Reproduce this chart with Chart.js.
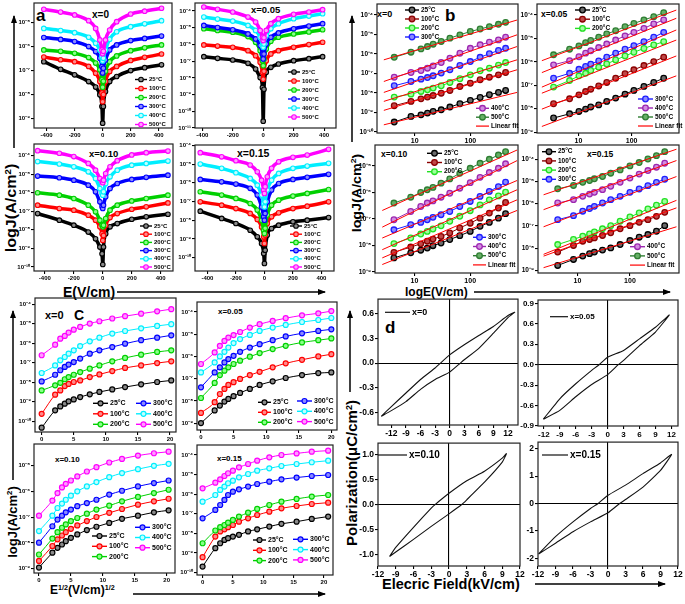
<!DOCTYPE html>
<html>
<head>
<meta charset="UTF-8">
<title>J-E and P-E curves</title>
<script src="https://cdn.jsdelivr.net/npm/chart.js"></script>
<style>
  body { margin: 0; background: #fff; font-family: "Liberation Sans", Arial, sans-serif; }
  #wrap { position: relative; width: 685px; height: 604px; overflow: hidden; background: #fff; }
  canvas { position: absolute; }
  .t { position: absolute; font-weight: bold; white-space: nowrap; line-height: 1; color: #000; }
  .r { transform-origin: center center; }
  sup { font-size: 0.6em; vertical-align: 0.55em; line-height: 0; }
  svg { position: absolute; left: 0; top: 0; }
</style>
</head>
<body>
<div id="wrap">
  <!-- panel letters and sub titles -->
  <div class="t" style="left:36px;top:7px;font-size:17px">a</div>
  <div class="t" style="left:92px;top:10px;font-size:10px">x=0</div>
  <div class="t" style="left:251px;top:5px;font-size:9.5px">x=0.05</div>
  <div class="t" style="left:89px;top:149px;font-size:9.5px">x=0.10</div>
  <div class="t" style="left:237px;top:148px;font-size:10.5px">x=0.15</div>

  <div class="t" style="left:445px;top:7px;font-size:17px">b</div>
  <div class="t" style="left:377px;top:10px;font-size:9px">x=0</div>
  <div class="t" style="left:541px;top:10px;font-size:8.5px">x=0.05</div>
  <div class="t" style="left:381px;top:150px;font-size:8.5px">x=0.10</div>
  <div class="t" style="left:587px;top:150px;font-size:8.5px">x=0.15</div>

  <div class="t" style="left:45px;top:310px;font-size:11px">x=0</div>
  <div class="t" style="left:74px;top:308px;font-size:14px">C</div>
  <div class="t" style="left:218px;top:308px;font-size:8px">x=0.05</div>
  <div class="t" style="left:55px;top:456px;font-size:8px">x=0.10</div>
  <div class="t" style="left:217px;top:455px;font-size:8px">x=0.15</div>

  <div class="t" style="left:385px;top:319px;font-size:17px">d</div>

  <!-- axis titles -->
  <div class="t r" style="left:11px;top:208px;font-size:14px;transform:translate(-50%,-50%) rotate(-90deg) scaleX(1.15)">logJ(A/cm<sup>2</sup>)</div>
  <div class="t" style="left:63px;top:285px;font-size:14px">E(V/cm)</div>
  <div class="t r" style="left:356px;top:193px;font-size:13px;transform:translate(-50%,-50%) rotate(-90deg) scaleX(1.1)">logJ(A/cm<sup>2</sup>)</div>
  <div class="t" style="left:405px;top:286px;font-size:12px">logE(V/cm)</div>
  <div class="t r" style="left:12px;top:522px;font-size:13px;transform:translate(-50%,-50%) rotate(-90deg)">logJ(A/cm<sup>2</sup>)</div>
  <div class="t" style="left:50px;top:584px;font-size:12px">E<sup>1/2</sup>(V/cm)<sup>1/2</sup></div>
  <div class="t r" style="left:351px;top:473px;font-size:15px;transform:translate(-50%,-50%) rotate(-90deg)">Polarization(&mu;C/cm<sup>2</sup>)</div>
  <div class="t" style="left:382px;top:577px;font-size:14.5px">Elecric Field(kV/cm)</div>

  <svg width="685" height="604">
    <defs>
      <marker id="ah" markerWidth="8" markerHeight="6" refX="7" refY="3" orient="auto" markerUnits="userSpaceOnUse">
        <path d="M0,0 L8,3 L0,6 z" fill="#000"/>
      </marker>
    </defs>
    <g stroke="#000" stroke-width="1.5" marker-end="url(#ah)">
      <line x1="14" y1="148" x2="14" y2="16"/>
      <line x1="117" y1="292" x2="325" y2="292"/>
      <line x1="352" y1="142" x2="352" y2="16"/>
      <line x1="474" y1="292" x2="670" y2="292"/>
      <line x1="13" y1="480" x2="13" y2="311"/>
      <line x1="133" y1="594" x2="325" y2="594"/>
      <line x1="350" y1="392" x2="350" y2="311"/>
      <line x1="535" y1="584" x2="665" y2="584"/>
    </g>
  </svg>
</div>

<script>
  // ---------- labels and ticks ----------
  const TEMPS = ['25°C', '100°C', '200°C', '300°C', '400°C', '500°C'];
  const TICK_E = [-400, -200, 0, 200, 400];
  const TICK_LOGE = [10, 100];
  const TICK_SQRT = [0, 5, 10, 15, 20];
  const TICK_D_X = [-12, -9, -6, -3, 0, 3, 6, 9, 12];
  const TICK_D1_Y = [-0.6, -0.3, 0, 0.3, 0.6];
  const TICK_D2_Y = [-0.9, -0.6, -0.3, 0, 0.3, 0.6, 0.9];
  const TICK_D3_Y = [-1, -0.5, 0, 0.5, 1];
  const TICK_D4_Y = [-2, -1, 0, 1, 2];

  // ---------- (a) log10 J vs E, rows = 25..500 C ----------
  const aE_x0  = [-420, -300, -200, -100, -50, -20, -5, 0, 5, 20, 50, 100, 200, 300, 420];
  const aE_x05 = [-390, -300, -200, -100, -50, -20, -5, 0, 5, 20, 50, 100, 200, 300, 390];
  const aE_x10 = [-450, -300, -200, -100, -50, -20, -5, 0, 5, 20, 50, 100, 200, 300, 450];
  const aE_x15 = [-450, -300, -200, -100, -50, -20, -5, 0, 5, 20, 50, 100, 200, 300, 450];
  const aJ_x0 = [
    [-6.63, -6.95, -7.18, -7.46, -7.69, -8.01, -8.5, -9.2, -8.5, -7.88, -7.46, -7.25, -7.0, -6.88, -6.76],
    [-6.44, -6.55, -6.63, -6.83, -7.11, -7.46, -7.94, -8.3, -8.0, -7.46, -7.04, -6.83, -6.58, -6.45, -6.31],
    [-6.14, -6.2, -6.28, -6.46, -6.69, -6.97, -7.39, -7.7, -7.45, -7.03, -6.63, -6.39, -6.17, -6.05, -5.93],
    [-5.62, -5.7, -5.79, -6.0, -6.21, -6.49, -6.83, -7.1, -6.9, -6.56, -6.14, -5.93, -5.75, -5.66, -5.56],
    [-5.24, -5.33, -5.42, -5.61, -5.86, -6.14, -6.42, -6.6, -6.49, -6.14, -5.69, -5.38, -5.17, -5.05, -4.92],
    [-4.44, -4.56, -4.68, -4.92, -5.24, -5.72, -6.14, -6.3, -6.2, -5.72, -5.31, -4.96, -4.64, -4.52, -4.40]
  ];
  const aJ_x05 = [
    [-6.73, -6.83, -6.93, -7.13, -7.47, -7.98, -8.58, -10.59, -8.68, -7.67, -7.37, -7.17, -6.97, -6.85, -6.73],
    [-6.03, -6.1, -6.17, -6.37, -6.67, -7.07, -7.67, -8.08, -7.6, -6.97, -6.57, -6.37, -6.17, -6.01, -5.87],
    [-5.06, -5.16, -5.27, -5.53, -5.87, -6.37, -6.97, -7.27, -6.87, -6.27, -5.81, -5.57, -5.37, -5.25, -5.12],
    [-4.86, -4.99, -5.12, -5.37, -5.67, -6.07, -6.57, -6.87, -6.57, -5.97, -5.57, -5.31, -5.06, -4.9, -4.76],
    [-4.36, -4.48, -4.6, -4.86, -5.16, -5.57, -6.07, -6.17, -5.97, -5.47, -5.06, -4.76, -4.46, -4.3, -4.16],
    [-3.76, -3.9, -4.06, -4.36, -4.66, -5.16, -5.57, -5.77, -5.6, -5.16, -4.76, -4.46, -4.2, -4.06, -3.92]
  ];
  const aJ_x10 = [
    [-7.12, -7.48, -7.75, -8.12, -8.48, -8.93, -9.29, -9.87, -8.93, -8.21, -7.84, -7.66, -7.43, -7.3, -7.16],
    [-6.67, -6.85, -6.94, -7.21, -7.48, -7.84, -8.21, -8.57, -8.3, -7.75, -7.34, -7.12, -6.89, -6.76, -6.55],
    [-6.0, -6.13, -6.31, -6.67, -7.03, -7.48, -7.75, -7.84, -7.75, -7.39, -6.94, -6.67, -6.44, -6.31, -6.13],
    [-5.1, -5.19, -5.32, -5.59, -5.95, -6.49, -6.76, -6.85, -6.67, -6.22, -5.77, -5.5, -5.28, -5.17, -5.05],
    [-4.32, -4.45, -4.6, -4.87, -5.23, -5.77, -6.04, -6.13, -5.95, -5.5, -5.14, -4.78, -4.51, -4.42, -4.29],
    [-3.73, -3.87, -4.05, -4.42, -4.78, -5.23, -5.41, -5.46, -5.32, -4.96, -4.6, -4.27, -3.96, -3.84, -3.75]
  ];
  const aJ_x15 = [
    [-7.52, -7.91, -8.18, -8.54, -8.89, -9.25, -9.79, -10.32, -9.61, -8.8, -8.45, -8.27, -8.09, -8.0, -7.86],
    [-7.02, -7.2, -7.38, -7.64, -7.96, -8.36, -8.89, -9.25, -8.8, -8.18, -7.82, -7.61, -7.38, -7.25, -7.02],
    [-6.48, -6.66, -6.84, -7.11, -7.46, -8.0, -8.54, -8.71, -8.43, -7.73, -7.2, -6.93, -6.71, -6.57, -6.36],
    [-5.82, -5.95, -6.07, -6.3, -6.66, -7.29, -7.82, -8.0, -7.64, -7.02, -6.39, -6.04, -5.82, -5.71, -5.55],
    [-5.0, -5.23, -5.46, -5.77, -6.13, -6.66, -7.11, -7.29, -7.02, -6.39, -5.86, -5.5, -5.23, -5.11, -4.96],
    [-4.39, -4.61, -4.82, -5.05, -5.41, -5.86, -6.39, -6.57, -6.21, -5.68, -5.23, -4.88, -4.64, -4.52, -4.21]
  ];

  // ---------- (b) log J vs log E, with linear fit end points ----------
  const bE_x0  = [4.3, 8.6, 13, 17, 21.5, 30, 43, 65, 100, 150, 220, 320, 430];
  const bE_x05 = [3.4, 6.8, 10.2, 13.6, 17, 24, 34, 50, 75, 110, 170, 260, 400];
  const bE_x10 = [4.3, 8.6, 13, 17, 21.5, 30, 43, 65, 100, 150, 220, 320, 430];
  const bE_x15 = [4.2, 8.4, 12.6, 17, 21, 30, 43, 65, 100, 150, 220, 320, 460];
  const bJ_x0 = [
    [-9.49, -9.2, -9.12, -9.03, -8.94, -8.86, -8.72, -8.55, -8.38, -8.23, -8.09, -7.97, -7.87],
    [-8.65, -8.43, -8.3, -8.21, -8.13, -8.01, -7.87, -7.67, -7.5, -7.32, -7.19, -7.07, -6.95],
    [-8.21, -8.06, -7.92, -7.84, -7.75, -7.63, -7.46, -7.27, -7.07, -6.86, -6.73, -6.57, -6.44],
    [-7.63, -7.41, -7.29, -7.21, -7.12, -6.98, -6.81, -6.59, -6.39, -6.17, -5.99, -5.82, -5.71],
    [-7.19, -6.95, -6.85, -6.73, -6.61, -6.44, -6.22, -5.96, -5.71, -5.53, -5.4, -5.28, -5.14],
    [-6.17, -5.91, -5.74, -5.62, -5.5, -5.36, -5.19, -5.02, -4.85, -4.72, -4.6, -4.48, -4.38]
  ];
  const bJ_x05 = [
    [-8.4, -8.22, -8.12, -8.02, -7.93, -7.84, -7.69, -7.55, -7.38, -7.22, -7.05, -6.88, -6.7],
    [-7.79, -7.58, -7.41, -7.27, -7.17, -7.03, -6.88, -6.7, -6.51, -6.34, -6.16, -5.99, -5.8],
    [-7.08, -6.8, -6.6, -6.49, -6.37, -6.23, -6.09, -5.92, -5.75, -5.59, -5.43, -5.28, -5.14],
    [-6.7, -6.49, -6.32, -6.2, -6.1, -5.96, -5.8, -5.63, -5.46, -5.31, -5.14, -4.95, -4.74],
    [-6.13, -5.95, -5.78, -5.63, -5.53, -5.39, -5.24, -5.07, -4.89, -4.74, -4.57, -4.38, -4.21],
    [-5.7, -5.46, -5.32, -5.18, -5.09, -4.95, -4.81, -4.67, -4.5, -4.36, -4.21, -4.07, -3.9]
  ];
  const bJ_x10 = [
    [-8.47, -8.28, -8.18, -8.1, -8.01, -7.91, -7.78, -7.63, -7.47, -7.28, -7.13, -6.97, -6.8],
    [-8.26, -8.06, -7.94, -7.84, -7.76, -7.66, -7.53, -7.34, -7.16, -6.97, -6.78, -6.59, -6.38],
    [-7.93, -7.72, -7.57, -7.47, -7.38, -7.26, -7.09, -6.9, -6.69, -6.47, -6.28, -6.13, -5.99],
    [-7.41, -7.22, -7.13, -7.03, -6.94, -6.84, -6.72, -6.53, -6.34, -6.15, -5.96, -5.78, -5.61],
    [-7.03, -6.72, -6.53, -6.4, -6.32, -6.18, -6.03, -5.84, -5.63, -5.43, -5.25, -5.09, -4.92],
    [-6.4, -6.18, -6.0, -5.9, -5.81, -5.65, -5.49, -5.28, -5.09, -4.9, -4.75, -4.59, -4.46]
  ];
  const bJ_x15 = [
    [-8.78, -8.51, -8.36, -8.25, -8.18, -8.09, -7.99, -7.84, -7.66, -7.51, -7.39, -7.24, -6.99],
    [-8.18, -7.88, -7.69, -7.61, -7.54, -7.43, -7.31, -7.13, -6.99, -6.84, -6.72, -6.57, -6.39],
    [-7.84, -7.61, -7.46, -7.36, -7.27, -7.13, -6.99, -6.79, -6.6, -6.42, -6.24, -6.07, -5.9],
    [-6.72, -6.54, -6.34, -6.22, -6.12, -5.97, -5.82, -5.67, -5.49, -5.34, -5.19, -5.04, -4.9],
    [-5.97, -5.82, -5.67, -5.57, -5.49, -5.37, -5.22, -5.04, -4.85, -4.67, -4.51, -4.36, -4.18],
    [-5.33, -5.18, -5.04, -4.96, -4.88, -4.78, -4.63, -4.48, -4.3, -4.15, -3.99, -3.84, -3.66]
  ];
  const bFitE_x0 = [2.8, 690], bFitE_x05 = [2.05, 690], bFitE_x10 = [2.66, 690], bFitE_x15 = [2.26, 770];
  const bFit_x0  = [[-9.63, -7.97], [-8.89, -6.81], [-8.43, -6.3], [-7.97, -5.62], [-7.41, -5.02], [-6.3, -4.26]];
  const bFit_x05 = [[-8.76, -6.6], [-8.02, -5.75], [-7.34, -5.07], [-7.08, -4.64], [-6.46, -4.14], [-5.95, -3.79]];
  const bFit_x10 = [[-8.72, -6.68], [-8.47, -6.28], [-8.16, -5.9], [-7.72, -5.55], [-7.31, -4.8], [-6.68, -4.4]];
  const bFit_x15 = [[-8.88, -7.04], [-8.36, -6.19], [-8.28, -5.85], [-7.04, -4.78], [-6.27, -4.06], [-5.6, -3.55]];

  // ---------- (c) log J vs E^1/2 ----------
  const cX_x0  = [0, 2.1, 2.9, 3.6, 4.2, 5, 6, 7.5, 9, 11, 13, 15.5, 18, 20.2];
  const cX_x05 = [0, 2.1, 2.9, 3.6, 4.2, 5, 6, 7.5, 9, 11, 13, 15.5, 18, 20];
  const cX_x10 = [0, 2.1, 2.9, 3.6, 4.2, 5, 6, 7.5, 9, 11, 13, 15.5, 18, 20.3];
  const cX_x15 = [0, 2.1, 2.9, 3.6, 4.2, 5, 6, 7.5, 9, 11, 13, 15.5, 18, 20.7];
  const cJ_x0 = [
    [-10.33, -9.44, -9.24, -9.1, -8.98, -8.88, -8.76, -8.62, -8.5, -8.37, -8.25, -8.11, -7.99, -7.91],
    [-9.62, -8.64, -8.42, -8.2, -8.09, -7.99, -7.91, -7.74, -7.6, -7.43, -7.27, -7.14, -7.02, -6.93],
    [-8.42, -8.16, -8.03, -7.85, -7.74, -7.62, -7.48, -7.31, -7.14, -6.93, -6.76, -6.59, -6.45, -6.37],
    [-7.96, -7.62, -7.39, -7.22, -7.1, -6.97, -6.79, -6.54, -6.37, -6.2, -6.03, -5.85, -5.72, -5.6],
    [-7.53, -7.14, -6.88, -6.71, -6.54, -6.37, -6.15, -5.91, -5.72, -5.51, -5.38, -5.24, -5.12, -5.03],
    [-6.62, -6.08, -5.77, -5.63, -5.46, -5.31, -5.17, -5.0, -4.88, -4.74, -4.62, -4.49, -4.37, -4.26]
  ];
  const cJ_x05 = [
    [-9.0, -8.43, -8.21, -8.03, -7.91, -7.79, -7.64, -7.46, -7.28, -7.12, -6.97, -6.84, -6.75, -6.72],
    [-8.54, -8.06, -7.69, -7.46, -7.28, -7.16, -7.01, -6.84, -6.69, -6.49, -6.31, -6.15, -6.0, -5.9],
    [-7.87, -7.19, -6.84, -6.64, -6.49, -6.34, -6.19, -6.01, -5.85, -5.67, -5.52, -5.37, -5.27, -5.19],
    [-7.39, -6.72, -6.49, -6.27, -6.12, -5.97, -5.79, -5.6, -5.45, -5.27, -5.1, -4.96, -4.85, -4.78],
    [-6.72, -6.27, -6.0, -5.79, -5.6, -5.4, -5.22, -5.03, -4.85, -4.7, -4.58, -4.45, -4.36, -4.27],
    [-6.34, -5.82, -5.52, -5.3, -5.15, -5.04, -4.9, -4.7, -4.55, -4.4, -4.28, -4.15, -4.06, -3.96]
  ];
  const cJ_x10 = [
    [-8.96, -8.38, -8.19, -8.06, -7.93, -7.8, -7.67, -7.5, -7.37, -7.22, -7.06, -6.94, -6.81, -6.73],
    [-8.7, -8.12, -7.86, -7.71, -7.58, -7.45, -7.32, -7.15, -6.99, -6.83, -6.68, -6.51, -6.38, -6.28],
    [-8.45, -7.83, -7.58, -7.41, -7.28, -7.15, -7.03, -6.86, -6.7, -6.55, -6.38, -6.21, -6.06, -5.93],
    [-7.99, -7.35, -7.09, -6.94, -6.81, -6.7, -6.57, -6.45, -6.32, -6.12, -5.97, -5.8, -5.67, -5.57],
    [-7.54, -6.94, -6.64, -6.47, -6.32, -6.16, -5.99, -5.8, -5.63, -5.44, -5.28, -5.13, -5.0, -4.92],
    [-6.94, -6.35, -6.06, -5.84, -5.7, -5.57, -5.41, -5.22, -5.05, -4.87, -4.73, -4.6, -4.51, -4.45]
  ];
  const cJ_x15 = [
    [-9.69, -8.75, -8.5, -8.33, -8.24, -8.16, -8.07, -7.9, -7.79, -7.65, -7.51, -7.4, -7.26, -7.14],
    [-9.21, -8.16, -7.9, -7.79, -7.68, -7.57, -7.4, -7.23, -7.06, -6.89, -6.72, -6.6, -6.5, -6.43],
    [-8.5, -7.85, -7.68, -7.57, -7.45, -7.31, -7.14, -6.94, -6.75, -6.55, -6.38, -6.24, -6.12, -6.04],
    [-7.23, -6.8, -6.55, -6.29, -6.04, -5.87, -5.75, -5.61, -5.48, -5.36, -5.24, -5.15, -5.07, -5.02],
    [-6.38, -6.04, -5.78, -5.61, -5.44, -5.31, -5.14, -4.97, -4.8, -4.68, -4.56, -4.46, -4.37, -4.29],
    [-5.7, -5.41, -5.24, -5.07, -4.93, -4.8, -4.63, -4.46, -4.29, -4.12, -4.0, -3.92, -3.83, -3.78]
  ];

  // ---------- (d) P-E loops: lower branch up, upper branch back ----------
  const dE_x0  = [-14.1, -12, -9, -6, -3, 0, 2.2, 3, 6, 9, 12, 13.4, 12, 9, 6, 3, 0, -1.9, -3, -6, -9, -12, -14.1];
  const dP_x0  = [-0.65, -0.58, -0.47, -0.32, -0.2, -0.11, 0, 0.04, 0.18, 0.365, 0.555, 0.62, 0.58, 0.446, 0.336, 0.223, 0.10, 0, -0.06, -0.2, -0.365, -0.53, -0.65];
  const dE_x05 = [-12.1, -9, -6, -3, 0, 2, 3, 6, 9, 11.6, 9, 6, 3, 0, -1.6, -3, -6, -9, -12.1];
  const dP_x05 = [-0.8, -0.67, -0.47, -0.29, -0.146, 0, 0.063, 0.28, 0.48, 0.73, 0.55, 0.38, 0.21, 0.11, 0, -0.083, -0.28, -0.5, -0.8];
  const dE_x10 = [-10.05, -9, -6, -3, 0, 2.1, 3, 6, 9, 9.7, 9, 6, 3, 0, -2.4, -3, -6, -9, -10.05];
  const dP_x10 = [-1.03, -0.94, -0.69, -0.43, -0.18, 0, 0.1, 0.45, 0.85, 1.02, 0.93, 0.67, 0.48, 0.23, 0, -0.067, -0.45, -0.85, -1.03];
  const dE_x15 = [-11.9, -9, -6, -3, 0, 2, 3, 6, 9, 10.9, 9, 6, 3, 0, -1.7, -3, -6, -9, -11.9];
  const dP_x15 = [-1.84, -1.45, -1.03, -0.67, -0.34, 0, 0.145, 0.6, 1.21, 1.79, 1.48, 1.09, 0.67, 0.30, 0, -0.18, -0.67, -1.21, -1.84];

  // ---------- styles ----------
  const COL_A = ['#000000', '#ff0000', '#00d000', '#0000ff', '#00eeff', '#ff00ff'];
  const FILL_A = ['#8a8a8a', '#ff8a8a', '#8aff8a', '#8a8aff', '#c0ffff', '#ff9cff'];
  const COL_B = ['#000000', '#8b0000', '#22e022', '#1e1eff', '#9c27b0', '#2e7d32'];
  const FILL_B = ['#6a6a6a', '#c04848', '#9cff9c', '#8a8aff', '#d28ce0', '#66b066'];
  const FONT = '"Liberation Sans", Arial, sans-serif';
  const wrap = document.getElementById('wrap');

  const SUP = { '-': '⁻', '0': '⁰', '1': '¹', '2': '²', '3': '³', '4': '⁴', '5': '⁵', '6': '⁶', '7': '⁷', '8': '⁸', '9': '⁹' };
  const pow10 = v => '10' + String(Math.round(Math.log10(v))).split('').map(c => SUP[c]).join('');

  function decades(lo, hi) {
    const t = [];
    for (let e = Math.ceil(lo); e <= Math.floor(hi); e++) t.push(Math.pow(10, e));
    return t;
  }

  function tempSeries(xs, rows, cols, fills, st) {
    return rows.map((r, i) => Object.assign({
      label: TEMPS[i],
      data: xs.map((x, k) => ({ x: x, y: Math.pow(10, r[k]) })),
      borderColor: cols[i], backgroundColor: fills[i],
      pointBackgroundColor: fills[i], pointBorderColor: cols[i],
      showLine: true, order: 6 - i
    }, st));
  }

  function fitSeries(fe, rows) {
    return rows.map((r, i) => ({
      label: i === 0 ? 'Linear fit' : 'fit' + i,
      data: [{ x: fe[0], y: Math.pow(10, r[0]) }, { x: fe[1], y: Math.pow(10, r[1]) }],
      borderColor: '#ff0000', backgroundColor: '#ff0000', borderWidth: 1, pointRadius: 0,
      showLine: true, order: 0
    }));
  }

  function loopSeries(label, e, p) {
    return [{
      label: label, data: e.map((x, k) => ({ x: x, y: p[k] })),
      borderColor: '#111', backgroundColor: '#111', borderWidth: 1.1, pointRadius: 0,
      showLine: true, tension: 0.15
    }];
  }

  const STYLE_A = { borderWidth: 3.5, pointRadius: 2.3, pointBorderWidth: 1.1, cubicInterpolationMode: 'monotone' };
  const STYLE_B = { borderWidth: 1, pointRadius: 2.8, pointBorderWidth: 1.3 };
  const STYLE_C = { borderWidth: 1, pointRadius: 2.5, pointBorderWidth: 1.2, cubicInterpolationMode: 'monotone' };

  // box outline
  const frame = {
    id: 'frame',
    afterDraw(ch) {
      const a = ch.chartArea, g = ch.ctx;
      g.save();
      g.strokeStyle = '#222';
      g.lineWidth = 1.2;
      g.strokeRect(a.left, a.top, a.right - a.left, a.bottom - a.top);
      g.restore();
    }
  };

  // legends drawn inside the plot box, positions given in page pixels
  const boxLegend = {
    id: 'boxLegend',
    afterDraw(ch, args, o) {
      if (!o.groups) return;
      const g = ch.ctx;
      g.save();
      g.font = 'bold ' + o.size + 'px ' + FONT;
      g.textBaseline = 'middle';
      o.groups.forEach(gr => {
        gr.items.forEach((lab, k) => {
          const ds = ch.data.datasets.find(d => d.label === lab);
          const x = gr.x - o.ox, y = gr.y + k * (gr.dy || 0) - o.oy;
          g.strokeStyle = ds.borderColor;
          g.lineWidth = ds.pointRadius ? 1.4 : 1.2;
          g.beginPath(); g.moveTo(x, y); g.lineTo(x + gr.len, y); g.stroke();
          if (ds.pointRadius) {
            g.beginPath();
            g.arc(x + gr.len / 2, y, ds.pointRadius, 0, Math.PI * 2);
            g.fillStyle = ds.pointBackgroundColor; g.fill();
            g.lineWidth = ds.pointBorderWidth; g.strokeStyle = ds.pointBorderColor; g.stroke();
          }
          g.fillStyle = '#000';
          g.fillText(lab, x + gr.len + 2, y);
        });
      });
      g.restore();
    }
  };

  function axis(a, isX, size, fsz) {
    const log = a.type === 'logarithmic';
    const min = log && a.lo !== undefined ? Math.pow(10, a.lo) : a.min;
    const max = log && a.hi !== undefined ? Math.pow(10, a.hi) : a.max;
    const ticks = a.ticks || decades(a.lo, a.hi);
    const fmt = a.fmt || (log && !isX ? pow10 : (v => String(v)));
    return {
      type: a.type, position: isX ? 'bottom' : 'left',
      min: min, max: max, bounds: 'data',
      afterBuildTicks: s => { s.ticks = ticks.map(v => ({ value: v })); },
      afterFit: s => { if (isX) s.height = size; else s.width = size; },
      border: { display: false },
      grid: {
        drawOnChartArea: !!a.zero,
        color: c => (a.zero && c.tick && c.tick.value === 0) ? '#000' : 'rgba(0,0,0,0)',
        tickColor: '#000', tickLength: 3, lineWidth: 1.1
      },
      ticks: {
        autoSkip: false, maxRotation: 0, padding: 1, color: '#000',
        font: { family: FONT, weight: 'bold', size: a.fs || fsz },
        callback: v => fmt(v)
      }
    };
  }

  function makeChart(box, cfg) {
    const YW = cfg.yw || 24, XH = cfg.xh || 13, PT = 6, PR = cfg.pr || 6;
    const l = Math.round(box[0]), t = Math.round(box[1]);
    const left = l - YW, top = t - PT;
    const w = Math.round(box[2]) - l + YW + PR;
    const h = Math.round(box[3]) - t + PT + XH;
    const c = document.createElement('canvas');
    c.width = w; c.height = h;
    c.style.left = left + 'px'; c.style.top = top + 'px';
    c.style.width = w + 'px'; c.style.height = h + 'px';
    wrap.appendChild(c);
    const legend = Object.assign({ ox: left, oy: top }, cfg.legend || {});
    return new Chart(c, {
      type: 'scatter',
      data: { datasets: cfg.datasets },
      options: {
        responsive: false, animation: false, devicePixelRatio: 1,
        layout: { autoPadding: false, padding: { top: PT, right: PR, left: 0, bottom: 0 } },
        plugins: { legend: { display: false }, tooltip: { enabled: false }, boxLegend: legend },
        scales: { x: axis(cfg.x, true, XH, cfg.fs || 6), y: axis(cfg.y, false, YW, cfg.fs || 6) }
      },
      plugins: [frame, boxLegend]
    });
  }

  // ---------- panel a ----------
  makeChart([34, 3, 172, 128], {
    x: { type: 'linear', min: -490, max: 495, ticks: TICK_E },
    y: { type: 'logarithmic', lo: -9.4, hi: -4.18 },
    datasets: tempSeries(aE_x0, aJ_x0, COL_A, FILL_A, STYLE_A),
    legend: { size: 6, groups: [{ x: 135, y: 79.5, dy: 9, len: 12, items: TEMPS }] }
  });
  makeChart([195, 3, 336, 128], {
    x: { type: 'linear', min: -448, max: 478, ticks: TICK_E },
    y: { type: 'logarithmic', lo: -11, hi: -3.52 },
    datasets: tempSeries(aE_x05, aJ_x05, COL_A, FILL_A, STYLE_A),
    legend: { size: 6, groups: [{ x: 288, y: 72, dy: 9, len: 12, items: TEMPS }] }
  });
  makeChart([34, 144, 173, 271], {
    x: { type: 'linear', min: -475, max: 485, ticks: TICK_E },
    y: { type: 'logarithmic', lo: -10.22, hi: -3.37 },
    datasets: tempSeries(aE_x10, aJ_x10, COL_A, FILL_A, STYLE_A),
    legend: { size: 6, groups: [{ x: 140, y: 226, dy: 8.2, len: 12, items: TEMPS }] }
  });
  makeChart([195, 145, 334, 271], {
    x: { type: 'linear', min: -487, max: 488, ticks: TICK_E },
    y: { type: 'logarithmic', lo: -10.72, hi: -3.98 },
    datasets: tempSeries(aE_x15, aJ_x15, COL_A, FILL_A, STYLE_A),
    legend: { size: 6, groups: [{ x: 290, y: 226, dy: 8.2, len: 12, items: TEMPS }] }
  });

  // ---------- panel b ----------
  const FIT = 'Linear fit';
  makeChart([377, 4, 518, 133], {
    fs: 6.5,
    x: { type: 'logarithmic', min: 2.11, max: 718, ticks: TICK_LOGE, fs: 7 },
    y: { type: 'logarithmic', lo: -10.05, hi: -3.44 },
    datasets: fitSeries(bFitE_x0, bFit_x0).concat(tempSeries(bE_x0, bJ_x0, COL_B, FILL_B, STYLE_B)),
    legend: { size: 6.5, groups: [
      { x: 405, y: 10, dy: 9, len: 14, items: TEMPS.slice(0, 4) },
      { x: 476, y: 108.3, dy: 8.9, len: 13, items: [TEMPS[4], TEMPS[5], FIT] }] }
  });
  makeChart([537, 4, 679, 133], {
    fs: 6.5,
    x: { type: 'logarithmic', min: 1.66, max: 776, ticks: TICK_LOGE, fs: 7 },
    y: { type: 'logarithmic', lo: -9.04, hi: -3.53 },
    datasets: fitSeries(bFitE_x05, bFit_x05).concat(tempSeries(bE_x05, bJ_x05, COL_B, FILL_B, STYLE_B)),
    legend: { size: 6.5, groups: [
      { x: 575, y: 10, dy: 9.2, len: 15, items: TEMPS.slice(0, 3) },
      { x: 638, y: 99, dy: 9, len: 15, items: [TEMPS[3], TEMPS[4], TEMPS[5], FIT] }] }
  });
  makeChart([375, 145, 518, 273], {
    fs: 6.5,
    x: { type: 'logarithmic', min: 1.97, max: 718, ticks: TICK_LOGE, fs: 7 },
    y: { type: 'logarithmic', lo: -9.04, hi: -4.21 },
    datasets: fitSeries(bFitE_x10, bFit_x10).concat(tempSeries(bE_x10, bJ_x10, COL_B, FILL_B, STYLE_B)),
    legend: { size: 6.5, groups: [
      { x: 427, y: 153.3, dy: 9.2, len: 15, items: TEMPS.slice(0, 3) },
      { x: 473, y: 237.3, dy: 9.2, len: 13, items: [TEMPS[3], TEMPS[4], TEMPS[5], FIT] }] }
  });
  makeChart([538, 145, 679, 273], {
    fs: 6.5,
    x: { type: 'logarithmic', min: 1.77, max: 861, ticks: TICK_LOGE, fs: 7 },
    y: { type: 'logarithmic', lo: -9.12, hi: -3.36 },
    datasets: fitSeries(bFitE_x15, bFit_x15).concat(tempSeries(bE_x15, bJ_x15, COL_B, FILL_B, STYLE_B)),
    legend: { size: 6.5, groups: [
      { x: 542, y: 151.7, dy: 9.2, len: 14, items: TEMPS.slice(0, 4) },
      { x: 630, y: 246.7, dy: 9.2, len: 15, items: [TEMPS[4], TEMPS[5], FIT] }] }
  });

  // ---------- panel c ----------
  makeChart([35, 298, 176, 432], {
    x: { type: 'linear', min: -1.04, max: 20.94, ticks: TICK_SQRT },
    y: { type: 'logarithmic', lo: -10.55, hi: -3.69 },
    datasets: tempSeries(cX_x0, cJ_x0, COL_A, FILL_A, STYLE_C),
    legend: { size: 7, groups: [
      { x: 93, y: 403.3, dy: 10.5, len: 15, items: TEMPS.slice(0, 3) },
      { x: 136, y: 403.3, dy: 10.5, len: 15, items: TEMPS.slice(3) }] }
  });
  makeChart([197, 302, 337, 430], {
    x: { type: 'linear', min: -0.61, max: 20.87, ticks: TICK_SQRT },
    y: { type: 'logarithmic', lo: -9.31, hi: -3.55 },
    datasets: tempSeries(cX_x05, cJ_x05, COL_A, FILL_A, STYLE_C),
    legend: { size: 7, groups: [
      { x: 258, y: 402.3, dy: 10, len: 13, items: TEMPS.slice(0, 3) },
      { x: 297, y: 401, dy: 10.3, len: 15, items: TEMPS.slice(3) }] }
  });
  makeChart([34, 444, 175, 573], {
    x: { type: 'linear', min: -0.78, max: 21.3, ticks: TICK_SQRT },
    y: { type: 'logarithmic', lo: -9.17, hi: -4.15 },
    datasets: tempSeries(cX_x10, cJ_x10, COL_A, FILL_A, STYLE_C),
    legend: { size: 7, groups: [
      { x: 92, y: 536, dy: 10.3, len: 15, items: TEMPS.slice(0, 3) },
      { x: 135, y: 527.3, dy: 10.2, len: 15, items: TEMPS.slice(3) }] }
  });
  makeChart([197, 445, 333, 575], {
    x: { type: 'linear', min: -0.92, max: 21.5, ticks: TICK_SQRT },
    y: { type: 'logarithmic', lo: -10.12, hi: -3.49 },
    datasets: tempSeries(cX_x15, cJ_x15, COL_A, FILL_A, STYLE_C),
    legend: { size: 7, groups: [
      { x: 253, y: 540, dy: 10.3, len: 13, items: TEMPS.slice(0, 3) },
      { x: 293, y: 539.3, dy: 10.3, len: 15, items: TEMPS.slice(3) }] }
  });

  // ---------- panel d ----------
  const one = v => v.toFixed(1);
  makeChart([378, 299, 518, 425], {
    fs: 8.5, yw: 26, pr: 8,
    x: { type: 'linear', min: -14.75, max: 14.06, ticks: TICK_D_X, zero: true },
    y: { type: 'linear', min: -0.755, max: 0.78, ticks: TICK_D1_Y, zero: true, fmt: one },
    datasets: loopSeries('x=0', dE_x0, dP_x0),
    legend: { size: 9, groups: [{ x: 385, y: 312.3, len: 25, items: ['x=0'] }] }
  });
  makeChart([538, 300, 678, 426], {
    fs: 8, yw: 26, pr: 7,
    x: { type: 'linear', min: -13.1, max: 13.24, ticks: TICK_D_X, zero: true },
    y: { type: 'linear', min: -0.9, max: 0.95, ticks: TICK_D2_Y, zero: true, fmt: one },
    datasets: loopSeries('x=0.05', dE_x05, dP_x05),
    legend: { size: 8, groups: [{ x: 550, y: 316.7, len: 18, items: ['x=0.05'] }] }
  });
  makeChart([378, 443, 520, 566], {
    fs: 8.5, yw: 26, pr: 8,
    x: { type: 'linear', min: -12, max: 12, ticks: TICK_D_X, zero: true },
    y: { type: 'linear', min: -1.22, max: 1.23, ticks: TICK_D3_Y, zero: true, fmt: one },
    datasets: loopSeries('x=0.10', dE_x10, dP_x10),
    legend: { size: 10, groups: [{ x: 378, y: 455, len: 29, items: ['x=0.10'] }] }
  });
  makeChart([538, 442, 678, 566], {
    fs: 8.5, yw: 26, pr: 7,
    x: { type: 'linear', min: -12, max: 12, ticks: TICK_D_X, zero: true },
    y: { type: 'linear', min: -2.28, max: 2.24, ticks: TICK_D4_Y, zero: true },
    datasets: loopSeries('x=0.15', dE_x15, dP_x15),
    legend: { size: 10, groups: [{ x: 542, y: 455, len: 26, items: ['x=0.15'] }] }
  });
</script>
</body>
</html>
